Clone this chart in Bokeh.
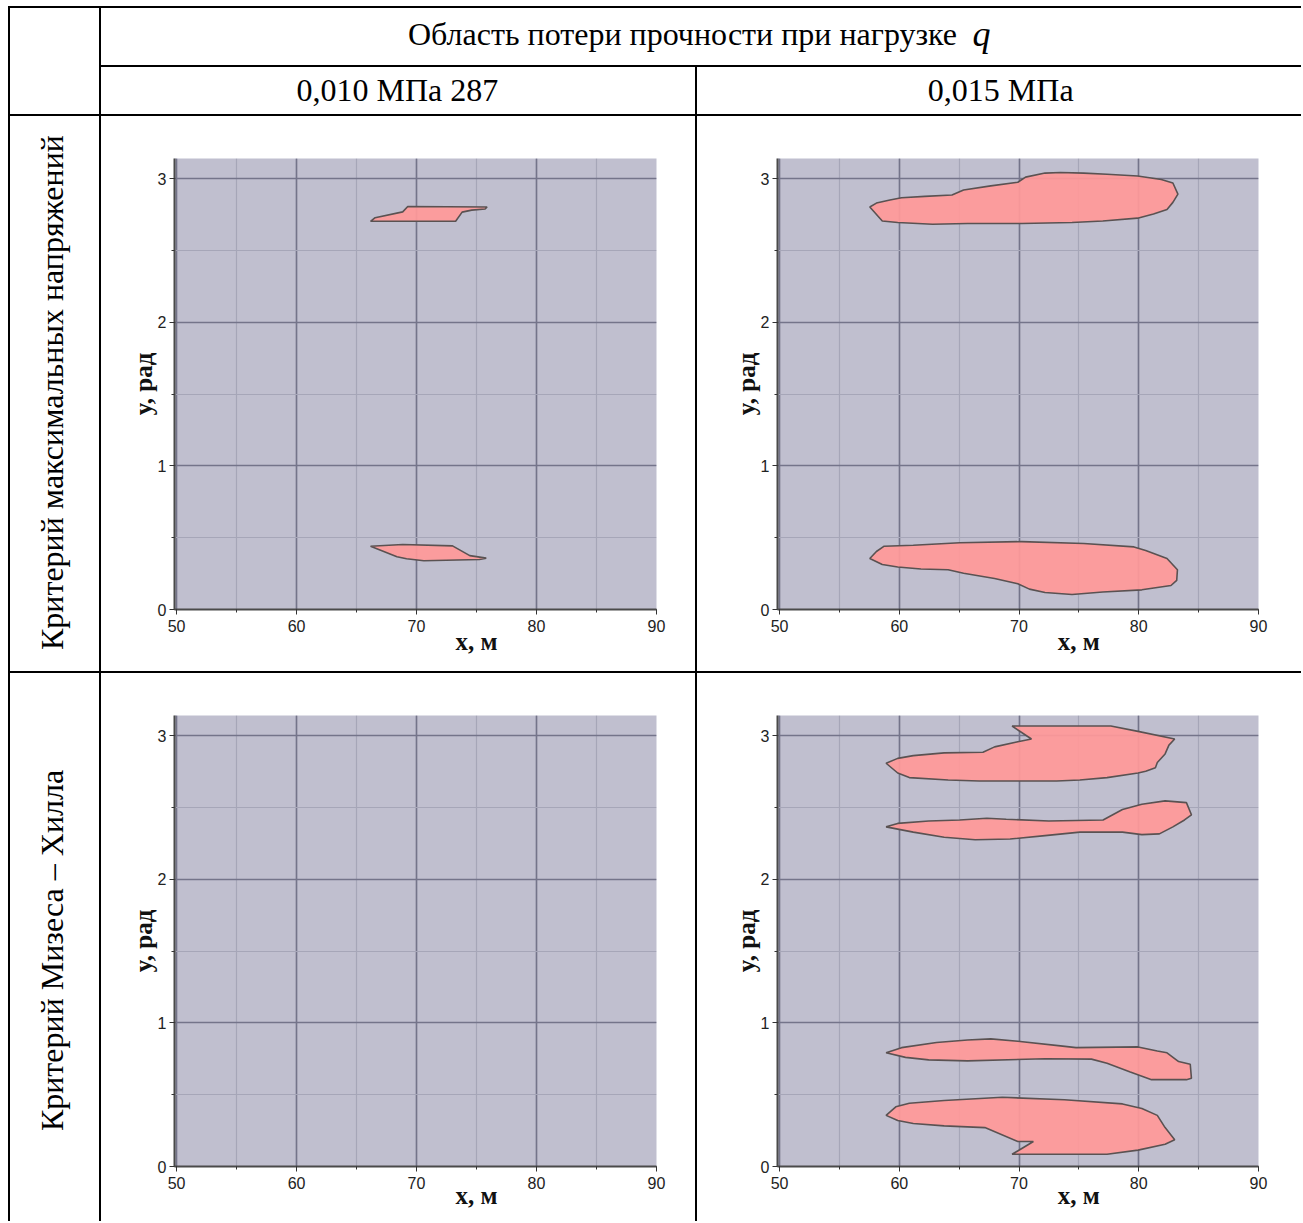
import math
from bokeh.plotting import figure
from bokeh.layouts import row, column
from bokeh.models import SingleIntervalTicker, FixedTicker, Range1d, LinearAxis, Div, Spacer
from bokeh.core.properties import value
from bokeh.embed import file_html
from bokeh.resources import INLINE
from bokeh.core.validation import silence
from bokeh.core.validation.warnings import MISSING_RENDERERS

silence(MISSING_RENDERERS, True)

# ---------------- data ----------------
header_title = "Область потери прочности при нагрузке"
header_var = "q"
load_labels = ["0,010 МПа 287", "0,015 МПа"]
criteria = ["Критерий максимальных напряжений", "Критерий Мизеса – Хилла"]
x_label = "x, м"
y_label = "y, рад"

# max-stress criterion, q = 0.010
tl_upper_x = [66.17, 66.55, 68.85, 69.27, 75.88, 75.72, 74.6, 73.8, 73.26]
tl_upper_y = [2.704, 2.729, 2.770, 2.807, 2.804, 2.790, 2.782, 2.768, 2.704]
tl_lower_x = [66.17, 68.85, 73.0, 74.44, 75.81, 75.24, 70.61, 69.17, 68.37]
tl_lower_y = [0.441, 0.453, 0.443, 0.375, 0.358, 0.348, 0.340, 0.353, 0.367]

# max-stress criterion, q = 0.015
tr_upper_x = [57.54, 58.09, 59.22, 60.19, 62.14, 64.4, 65.37, 67.64, 69.9, 70.55, 72.17, 73.46,
              75.4, 77.35, 79.9, 81.88, 82.85, 83.27, 82.85, 82.36, 81.23, 79.9, 77.0, 74.43,
              70.23, 65.7, 62.78, 59.87, 58.58]
tr_upper_y = [2.804, 2.831, 2.853, 2.868, 2.878, 2.887, 2.922, 2.951, 2.976, 3.012, 3.040, 3.044,
              3.040, 3.032, 3.020, 2.995, 2.971, 2.893, 2.836, 2.787, 2.755, 2.726, 2.706, 2.696,
              2.689, 2.689, 2.684, 2.696, 2.706]
tr_lower_x = [57.54, 58.09, 58.74, 61.17, 65.05, 70.23, 75.4, 79.6, 80.58, 82.36, 83.23, 83.17,
              82.69, 80.26, 77.0, 74.43, 72.17, 70.87, 69.9, 67.96, 65.37, 64.08, 61.81, 59.87, 58.58]
tr_lower_y = [0.355, 0.404, 0.441, 0.448, 0.465, 0.473, 0.460, 0.436, 0.411, 0.355, 0.277, 0.203,
              0.167, 0.137, 0.122, 0.105, 0.118, 0.142, 0.179, 0.216, 0.252, 0.277, 0.282, 0.296, 0.313]

# Mises-Hill criterion, q = 0.015
br_a_x = [58.9, 59.87, 61.17, 63.75, 66.99, 67.96, 69.9, 71.04, 69.42, 77.67, 79.94, 83.0, 82.52,
          82.2, 81.55, 81.39, 80.58, 79.94, 77.35, 75.08, 73.14, 66.67, 64.08, 60.84, 59.87]
br_a_y = [2.809, 2.843, 2.862, 2.881, 2.886, 2.923, 2.959, 2.978, 3.068, 3.068, 3.031, 2.978, 2.935,
          2.874, 2.814, 2.777, 2.753, 2.741, 2.709, 2.692, 2.685, 2.685, 2.692, 2.709, 2.741]
br_b_x = [58.9, 59.87, 62.46, 65.05, 67.31, 68.93, 72.49, 77.02, 78.64, 80.26, 82.2, 83.98, 84.4,
          83.82, 82.85, 81.72, 80.26, 78.64, 75.08, 72.17, 69.26, 66.34, 63.75, 61.17]
br_b_y = [2.366, 2.390, 2.407, 2.414, 2.426, 2.419, 2.407, 2.414, 2.487, 2.523, 2.547, 2.535, 2.450,
          2.414, 2.366, 2.317, 2.312, 2.329, 2.329, 2.305, 2.281, 2.276, 2.293, 2.329]
br_c_x = [58.9, 60.19, 63.11, 65.7, 67.64, 69.9, 73.46, 74.76, 79.94, 81.55, 82.36, 83.33, 84.3,
          84.4, 83.98, 81.07, 79.29, 77.35, 76.05, 72.17, 65.7, 62.46, 60.52]
br_c_y = [0.792, 0.828, 0.864, 0.881, 0.889, 0.872, 0.840, 0.828, 0.833, 0.804, 0.792, 0.731, 0.712,
          0.615, 0.605, 0.605, 0.659, 0.719, 0.748, 0.751, 0.736, 0.743, 0.760]
br_d_x = [58.9, 59.71, 60.84, 63.75, 68.61, 73.79, 78.64, 80.26, 81.55, 82.2, 83.0, 82.2, 79.94,
          77.35, 69.42, 71.2, 69.9, 67.15, 63.75, 61.17, 59.87]
br_d_y = [0.356, 0.416, 0.441, 0.460, 0.482, 0.465, 0.436, 0.404, 0.356, 0.271, 0.186, 0.155, 0.114,
          0.085, 0.085, 0.174, 0.174, 0.271, 0.283, 0.300, 0.320]

x_start, x_end = 49.83, 90
y_start, y_end = 0, math.pi
x_label_pos = 75

SERIF = "Liberation Serif"
SANS = "Liberation Sans"


def hline(w, h):
    return Div(text="", width=w, height=h, margin=0,
               styles={"background-color": "black", "overflow": "hidden",
                       "margin": "0", "padding": "0"})


def cell(w, h):
    f = figure(width=w, height=h, x_range=Range1d(0, 1), y_range=Range1d(0, 1),
               toolbar_location=None, output_backend="svg", min_border=0,
               min_border_left=0, min_border_right=0, min_border_top=0, min_border_bottom=0,
               x_axis_location=None, y_axis_location=None, title_location=None)
    f.grid.visible = False
    f.outline_line_color = None
    f.background_fill_color = "white"
    f.border_fill_color = "white"
    return f


def row_label(w, h, top, bottom, frac, text):
    # frac: wanted vertical position of the label centre as a fraction of the frame height
    f = figure(width=w, height=h, x_range=Range1d(0, 1), y_range=Range1d(0, 0.5 / frac),
               toolbar_location=None, output_backend="svg", title_location=None,
               x_axis_location=None, y_axis_location="left",
               min_border_left=70, min_border_right=0, min_border_top=top, min_border_bottom=bottom)
    f.grid.visible = False
    f.outline_line_color = None
    f.background_fill_color = "white"
    f.border_fill_color = "white"
    ax = f.yaxis[0]
    ax.ticker = FixedTicker(ticks=[0.5])
    ax.major_label_overrides = {0.5: text, "0.5": text}
    ax.major_label_orientation = "vertical"
    ax.axis_line_color = None
    ax.major_tick_line_color = None
    ax.minor_tick_line_color = None
    ax.major_tick_out = 0
    ax.major_tick_in = 0
    ax.major_label_standoff = 10
    ax.major_label_text_font = SERIF
    ax.major_label_text_font_size = "32px"
    ax.major_label_text_color = "black"
    return f


def make_plot(w, h, left, right, top, bottom, polys, xlab_standoff):
    p = figure(width=w, height=h, x_range=Range1d(x_start, x_end), y_range=Range1d(y_start, y_end),
               toolbar_location=None, output_backend="svg", title_location=None,
               min_border_left=left, min_border_right=right,
               min_border_top=top, min_border_bottom=bottom)
    p.background_fill_color = "#c0bfcf"
    p.border_fill_color = "white"
    p.outline_line_color = None

    xt = SingleIntervalTicker(interval=10, num_minor_ticks=2)
    yt = SingleIntervalTicker(interval=1, num_minor_ticks=2)
    p.xaxis.ticker = xt
    p.yaxis.ticker = yt
    p.xgrid.ticker = xt
    p.ygrid.ticker = yt
    for g in (p.xgrid[0], p.ygrid[0]):
        g.grid_line_color = "#74748a"
        g.grid_line_width = 1.6
        g.minor_grid_line_color = "#a6a6b8"
        g.minor_grid_line_width = 1.2
    for ax in (p.xaxis[0], p.yaxis[0]):
        ax.axis_line_color = "#4a4a4a"
        ax.axis_line_width = 2
        ax.major_tick_line_color = "#333333"
        ax.minor_tick_line_color = "#333333"
        ax.major_tick_out = 5
        ax.major_tick_in = 0
        ax.minor_tick_out = 3
        ax.minor_tick_in = 0
        ax.major_label_text_font = SANS
        ax.major_label_text_font_size = "16px"
        ax.major_label_text_color = "#222222"
    p.xaxis.major_label_standoff = 5
    p.yaxis.major_label_standoff = 3
    p.yaxis.axis_label = y_label
    p.yaxis.axis_label_text_font = SERIF
    p.yaxis.axis_label_text_font_size = "25px"
    p.yaxis.axis_label_text_font_style = "bold"
    p.yaxis.axis_label_text_color = "#111111"
    p.yaxis.axis_label_standoff = -2

    # x axis title, placed at x = 75 like in the original
    xa = LinearAxis(ticker=FixedTicker(ticks=[x_label_pos]),
                    major_label_overrides={x_label_pos: x_label, str(x_label_pos): x_label})
    xa.axis_line_color = None
    xa.major_tick_line_color = None
    xa.minor_tick_line_color = None
    xa.major_tick_out = 0
    xa.major_tick_in = 0
    xa.major_label_standoff = xlab_standoff
    xa.major_label_text_font = SERIF
    xa.major_label_text_font_size = "25px"
    xa.major_label_text_font_style = "bold"
    xa.major_label_text_color = "#111111"
    p.add_layout(xa, "below")

    if polys:
        xs = [a for a, b in polys]
        ys = [b for a, b in polys]
        p.patches(xs, ys, fill_color="#ff9999", fill_alpha=0.93,
                  line_color="#5a5252", line_width=1.6)
    return p


# table geometry
SL, LW, WL, W2, W3 = 8, 2, 89, 594, 604
FULLW = LW + WL + LW + W2 + LW + W3
H1, H2, R1, R2 = 57, 47, 555, 548
TOP_H = H1 + LW + H2

hdr1 = cell(W2 + LW + W3, H1)
hdr1.text(x=[0.4842], y=[0.56], text=[header_title], text_font=value(SERIF),
          text_font_size=value("32px"), text_align="center", text_baseline="middle",
          text_color="black")
hdr1.text(x=[0.7333], y=[0.56], text=[header_var], text_font=value(SERIF),
          text_font_size=value("36px"), text_font_style="italic", text_align="center",
          text_baseline="middle", text_color="black")
h2a = cell(W2, H2)
h2a.text(x=[0.498], y=[0.52], text=[load_labels[0]], text_font=value(SERIF),
         text_font_size=value("32px"), text_align="center", text_baseline="middle", text_color="black")
h2b = cell(W3, H2)
h2b.text(x=[0.502], y=[0.52], text=[load_labels[1]], text_font=value(SERIF),
         text_font_size=value("32px"), text_align="center", text_baseline="middle", text_color="black")

lab1 = row_label(WL, R1, 42, 62, 0.481, criteria[0])
lab2 = row_label(WL, R2, 42, 55, 0.479, criteria[1])

tl = make_plot(W2, R1, 73, 39, 42, 62,
               [(tl_upper_x, tl_upper_y), (tl_lower_x, tl_lower_y)], -7)
tr = make_plot(W3, R1, 80, 43, 42, 62,
               [(tr_upper_x, tr_upper_y), (tr_lower_x, tr_lower_y)], -7)
bl = make_plot(W2, R2, 73, 39, 42, 55, [], -10)
br = make_plot(W3, R2, 80, 43, 42, 55,
               [(br_a_x, br_a_y), (br_b_x, br_b_y), (br_c_x, br_c_y), (br_d_x, br_d_y)], -10)

header_block = row(
    Spacer(width=SL, height=TOP_H), hline(LW, TOP_H), Spacer(width=WL, height=TOP_H), hline(LW, TOP_H),
    column(hdr1, hline(W2 + LW + W3, LW), row(h2a, hline(LW, H2), h2b)),
)
row1 = row(Spacer(width=SL, height=R1), hline(LW, R1), lab1, hline(LW, R1), tl, hline(LW, R1), tr)
row2 = row(Spacer(width=SL, height=R2), hline(LW, R2), lab2, hline(LW, R2), bl, hline(LW, R2), br)


def full_line():
    return row(Spacer(width=SL, height=LW), hline(FULLW, LW))


layout = column(Spacer(width=SL + FULLW, height=6), full_line(), header_block, full_line(), row1,
                full_line(), row2)

open("out.html", "w").write(file_html(layout, INLINE))
